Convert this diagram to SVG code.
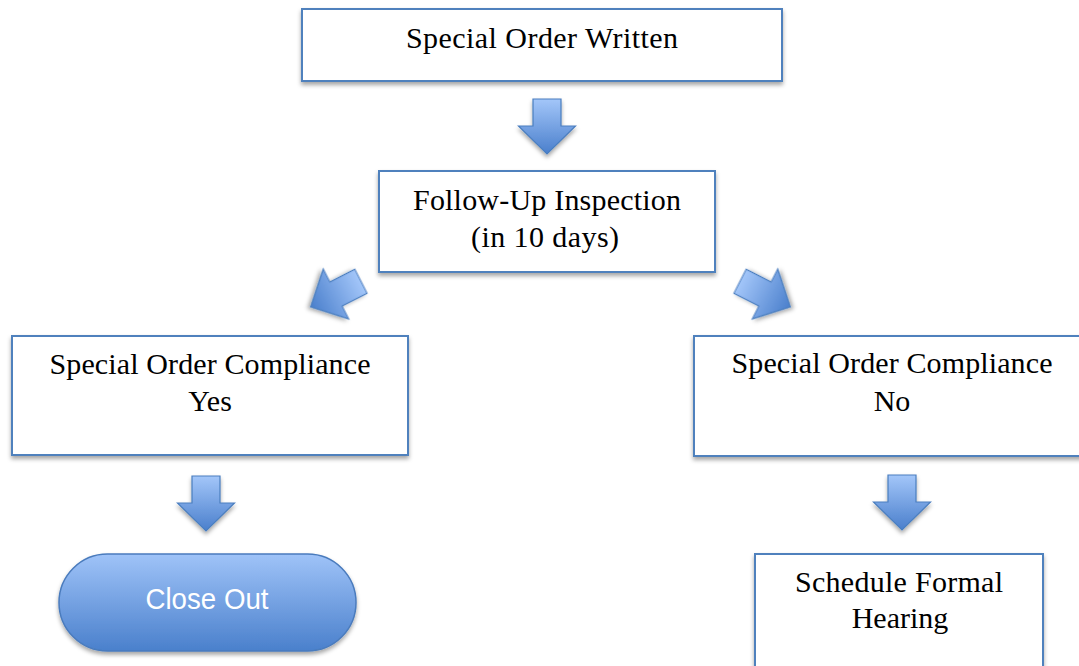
<svg xmlns="http://www.w3.org/2000/svg" width="1079" height="666" viewBox="0 0 1079 666">
<style>
.box{fill:#fff;stroke:#4f81bd;stroke-width:2;filter:url(#sh)}
.t{font-family:"Liberation Serif","Times New Roman",serif;font-size:30px;fill:#000;text-anchor:middle}
.arr{fill:url(#ag);stroke:#4a7ebf;stroke-width:1.2;filter:url(#sh)}
</style>
<defs>
<filter id="sh" x="-20%" y="-20%" width="140%" height="150%">
<feDropShadow dx="0" dy="3" stdDeviation="2" flood-color="#000" flood-opacity="0.35"/>
</filter>
<linearGradient id="ag" x1="0" y1="0" x2="0" y2="1">
<stop offset="0" stop-color="#a3c6f9"/>
<stop offset="1" stop-color="#4a7fcc"/>
</linearGradient>
<linearGradient id="pg" x1="0" y1="0" x2="0" y2="1">
<stop offset="0" stop-color="#9fc3f8"/>
<stop offset="1" stop-color="#4a80cc"/>
</linearGradient>
<path id="down" d="M -14 -55 H 14 V -28 H 28.5 L 0 0 L -28.5 -28 H -14 Z"/>
<path id="diag" d="M -13.5 -28 H 13.5 V 0 H 28 L 0 28.5 L -28 0 H -13.5 Z"/>
</defs>

<g id="connectors">
<use href="#down" class="arr" transform="translate(547,154)"/>
<use href="#diag" class="arr" transform="translate(336,294) rotate(63)"/>
<use href="#diag" class="arr" transform="translate(765,294) rotate(-63)"/>
<use href="#down" class="arr" transform="translate(206,531)"/>
<use href="#down" class="arr" transform="translate(902,530)"/>
</g>

<g id="n-written">
<rect class="box" x="302" y="9" width="480" height="72"/>
<text class="t" x="542" y="48" textLength="272" lengthAdjust="spacing">Special Order Written</text>
</g>

<g id="n-followup">
<rect class="box" x="379" y="171" width="336" height="101"/>
<text class="t" x="547" y="210" textLength="268" lengthAdjust="spacing">Follow-Up Inspection</text>
<text class="t" x="545" y="247" textLength="148" lengthAdjust="spacing">(in 10 days)</text>
</g>

<g id="n-yes">
<rect class="box" x="12" y="336" width="396" height="119"/>
<text class="t" x="210" y="374" textLength="321" lengthAdjust="spacing">Special Order Compliance</text>
<text class="t" x="210" y="411">Yes</text>
</g>

<g id="n-no">
<rect class="box" x="694" y="336" width="397" height="120"/>
<text class="t" x="892" y="373" textLength="321" lengthAdjust="spacing">Special Order Compliance</text>
<text class="t" x="892" y="411">No</text>
</g>

<g id="n-closeout">
<rect x="59" y="554" width="297" height="97" rx="48.5" ry="48.5" fill="url(#pg)" stroke="#4a7bbd" stroke-width="1.5" filter="url(#sh)"/>
<text x="207" y="609" font-family="'Liberation Sans',Arial,sans-serif" font-size="29" fill="#fff" text-anchor="middle" textLength="123" lengthAdjust="spacingAndGlyphs">Close Out</text>
</g>

<g id="n-hearing">
<rect class="box" x="755" y="554" width="288" height="130"/>
<text class="t" x="899" y="592" textLength="208" lengthAdjust="spacing">Schedule Formal</text>
<text class="t" x="900" y="628">Hearing</text>
</g>
</svg>
